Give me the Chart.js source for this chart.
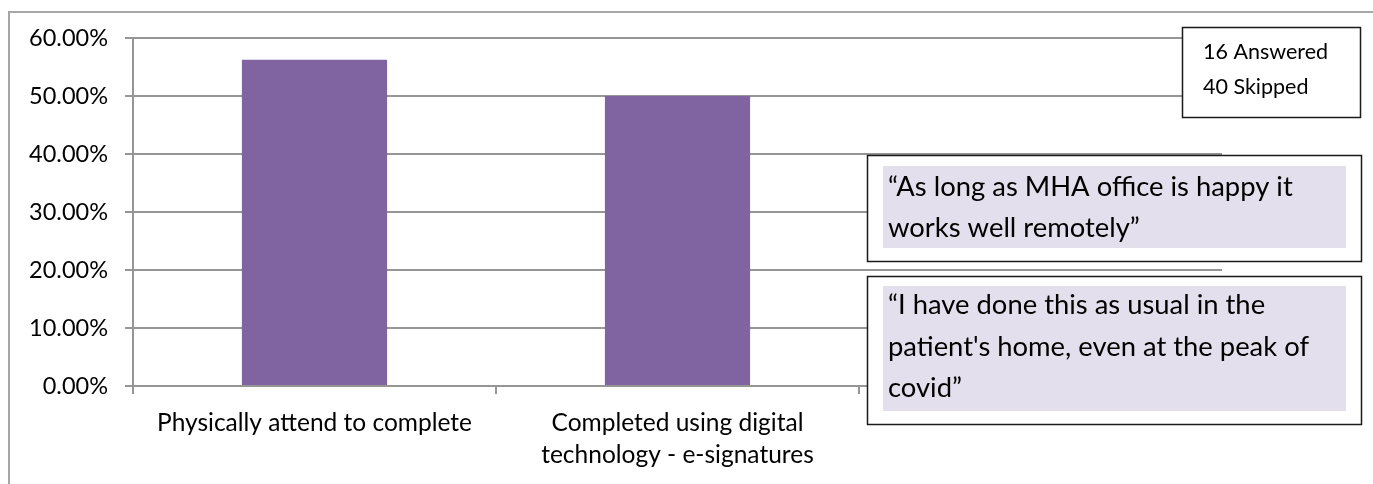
<!DOCTYPE html>
<html><head><meta charset="utf-8">
<script src="https://cdn.jsdelivr.net/npm/chart.js@4.4.0/dist/chart.umd.min.js"></script>
<style>
body{margin:0;background:#fff;width:1373px;height:484px;overflow:hidden;position:relative}
#frame{position:absolute;left:8px;top:11px;width:1400px;height:500px;border-left:2px solid #a6a6a6;border-top:2px solid #a6a6a6;box-sizing:border-box}
#c{position:absolute;left:0;top:0}
</style>
</head><body>
<div id="frame"></div>
<canvas id="c" width="1373" height="484"></canvas>
<script>
// Categories (third category is hidden under the comment boxes in the source)
const categories = [["Physically attend to complete"], ["Completed using digital", "technology - e-signatures"], [""]];
const values = [56.25, 50, null];
const yTicks = [0, 10, 20, 30, 40, 50, 60];
const responseCounts = ["16 Answered", "40 Skipped"];
const quote1 = ["\u201CAs long as MHA office is happy it", "works well remotely\u201D"];
const quote2 = ["\u201CI have done this as usual in the", "patient's home, even at the peak of", "covid\u201D"];

const FONT = 'Lato';

const notes = {
  id: 'notes',
  afterDraw(chart) {
    const ctx = chart.ctx;
    ctx.save();
    function box(x, y, w, h) {
      ctx.fillStyle = '#fff';
      ctx.fillRect(x, y, w, h);
      ctx.strokeStyle = '#1a1a1a';
      ctx.lineWidth = 1.5;
      ctx.strokeRect(x + 0.5, y + 0.5, w, h);
    }
    // response count box
    box(1182, 27, 178, 90);
    ctx.fillStyle = '#000';
    ctx.font = '21.5px "' + FONT + '"';
    ctx.textBaseline = 'alphabetic';
    ctx.textAlign = 'left';
    responseCounts.forEach((t, i) => ctx.fillText(t, 1203, 59 + i * 35));
    // quote boxes
    function quote(lines, y, h, hy, hh, base) {
      box(867, y, 494, h);
      ctx.fillStyle = '#E4DFEC';
      ctx.fillRect(883, hy, 463, hh);
      ctx.fillStyle = '#000';
      ctx.font = '27.4px "' + FONT + '"';
      lines.forEach((t, i) => ctx.fillText(t, 888, base + i * 41.5));
    }
    quote(quote1, 155, 106, 166, 82, 195.5);
    quote(quote2, 276, 148, 286, 125, 314);
    ctx.restore();
  }
};

function build() {
  new Chart(document.getElementById('c'), {
    type: 'bar',
    data: { labels: categories, datasets: [{ data: values, backgroundColor: '#8064A2', barPercentage: 0.4, categoryPercentage: 1 }] },
    plugins: [notes],
    options: {
      responsive: false, animation: false, devicePixelRatio: 1,
      plugins: { legend: { display: false }, tooltip: { enabled: false } },
      layout: { padding: { left: 0, top: 38, right: 151, bottom: 0 } },
      scales: {
        y: {
          min: yTicks[0], max: yTicks[yTicks.length - 1],
          afterBuildTicks: s => { s.ticks = yTicks.map(v => ({ value: v })); },
          ticks: { callback: v => v.toFixed(2) + '%', padding: 17, color: '#000', font: { family: FONT, size: 23.5 } },
          grid: { color: '#969696', lineWidth: 2, tickLength: 8 },
          border: { color: '#969696', width: 2 },
          afterFit: s => { s.width = 133; }
        },
        x: {
          ticks: { color: '#000', font: { family: FONT, size: 24.5, lineHeight: 1.3 }, maxRotation: 0, padding: 13 },
          grid: { drawOnChartArea: false, color: '#969696', lineWidth: 2, tickLength: 8, offset: true },
          border: { color: '#969696', width: 2 },
          afterFit: s => { s.height = 98; }
        }
      }
    }
  });
}
document.fonts.load('24px "Lato"').then(build, build);
</script></body></html>
